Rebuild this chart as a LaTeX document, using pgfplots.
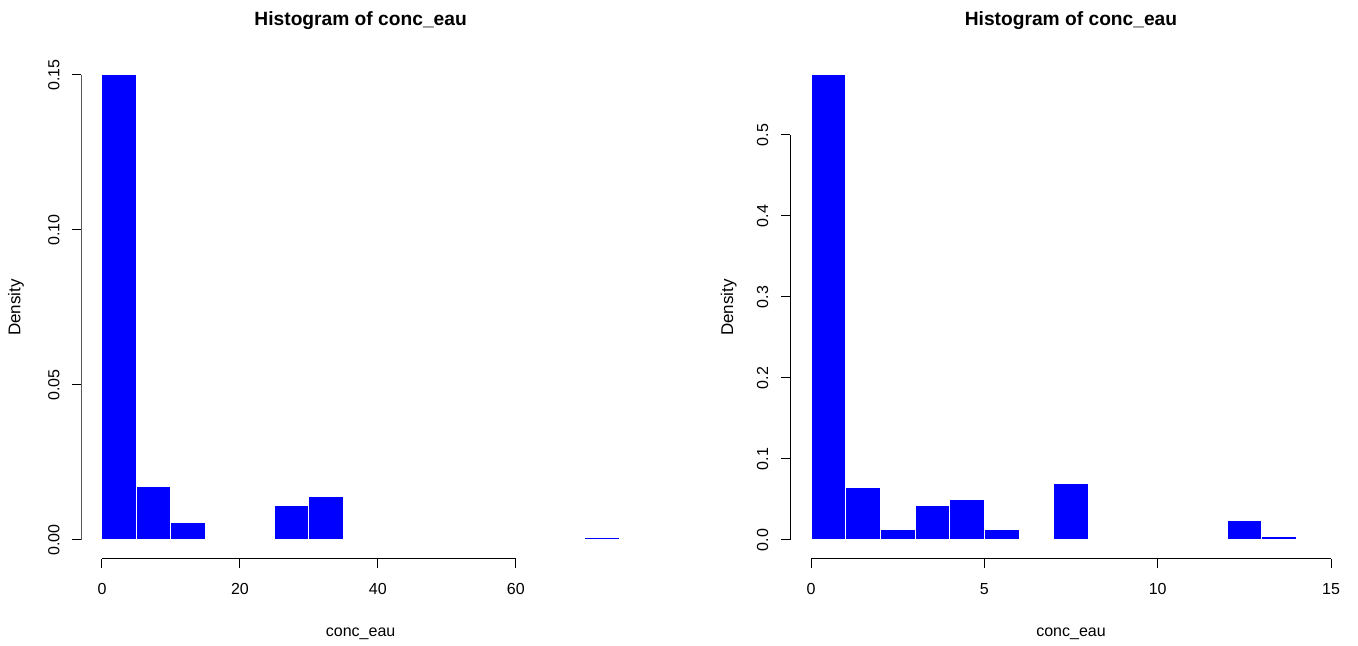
\documentclass[border=0pt]{standalone}
\usepackage{fontspec}
\setmainfont{Liberation Sans}
\usepackage{pgfplots}
\pgfplotsset{compat=1.18}
\pgfplotsset{
  rhist/.style={
    scale only axis, anchor=south west,
    axis line style={draw=none},
    tick align=outside, major tick length=4.5pt,
    xtick pos=left, ytick pos=left,
    tick style={black, line width=0.5pt},
    /pgf/number format/assume math mode=true,
    every tick label/.append style={font=\fontsize{8}{9.6}\selectfont, inner sep=0pt, outer sep=0pt},
    xticklabel style={anchor=base, yshift=-13.5pt},
    title style={at={(axis description cs:0.5,1)}, anchor=base, yshift=9.2pt,
                 font=\bfseries\fontsize{9.6}{11.5}\selectfont, inner sep=0pt},
    xlabel style={at={(axis description cs:0.5,0)}, anchor=base, yshift=-39pt,
                 font=\fontsize{8}{9.6}\selectfont, inner sep=0pt},
    title={Histogram of conc\_eau},
    xlabel={conc\_eau},
    ylabel={Density},
  },
  rbars/.style={ybar interval, fill=blue, draw=white, line width=0.5pt},
}
\begin{document}
\begin{tikzpicture}
\path[use as bounding box] (0,0) rectangle (679pt,323pt);
% left histogram
\begin{axis}[rhist,
  at={(40.65pt,43.7pt)}, width=279.35pt, height=251.1pt,
  xmin=-3, xmax=78, ymin=-0.006, ymax=0.156,
  xtick={0,20,40,60}, ytick={0,0.05,0.10,0.15},
  yticklabel style={/pgf/number format/fixed, /pgf/number format/fixed zerofill, /pgf/number format/precision=2},
  yticklabel style={xshift=-6.5pt, rotate=90, anchor=base},
  every axis y label/.style={at={(axis description cs:0,0.5)}, xshift=-30.5pt, anchor=base, rotate=90,
                 font=\fontsize{8.5}{10}\selectfont, inner sep=0pt},
]
\addplot[rbars] coordinates {(0,0.1500) (5,0.0174) (10,0.0058) (15,0)};
\addplot[rbars] coordinates {(25,0.0110) (30,0.0139) (35,0)};
\addplot[rbars] coordinates {(70,0.0008) (75,0)};
\draw[black, line width=0.5pt] (axis cs:0,-0.006) -- (axis cs:60,-0.006);
\draw[black, line width=0.5pt] (axis cs:-3,0) -- (axis cs:-3,0.15);
\end{axis}
% right histogram
\begin{axis}[rhist,
  at={(395.1pt,43.7pt)}, width=280.8pt, height=251.1pt,
  xmin=-0.6, xmax=15.6, ymin=-0.02296, ymax=0.59696,
  xtick={0,5,10,15}, ytick={0,0.1,0.2,0.3,0.4,0.5},
  yticklabel style={/pgf/number format/fixed, /pgf/number format/fixed zerofill, /pgf/number format/precision=1},
  yticklabel style={xshift=-6.5pt, rotate=90, anchor=base},
  every axis y label/.style={at={(axis description cs:0,0.5)}, xshift=-28.5pt, anchor=base, rotate=90,
                 font=\fontsize{8.5}{10}\selectfont, inner sep=0pt},
]
\addplot[rbars] coordinates {
  (0,0.574) (1,0.0654) (2,0.0132) (3,0.0428) (4,0.0494) (5,0.0132) (6,0.002)
  (7,0.0695) (8,0)
};
\addplot[rbars] coordinates {(12,0.0235) (13,0.004) (14,0)};
\draw[black, line width=0.5pt] (axis cs:0,-0.02296) -- (axis cs:15,-0.02296);
\draw[black, line width=0.5pt] (axis cs:-0.6,0) -- (axis cs:-0.6,0.5);
\end{axis}
\end{tikzpicture}
\end{document}
